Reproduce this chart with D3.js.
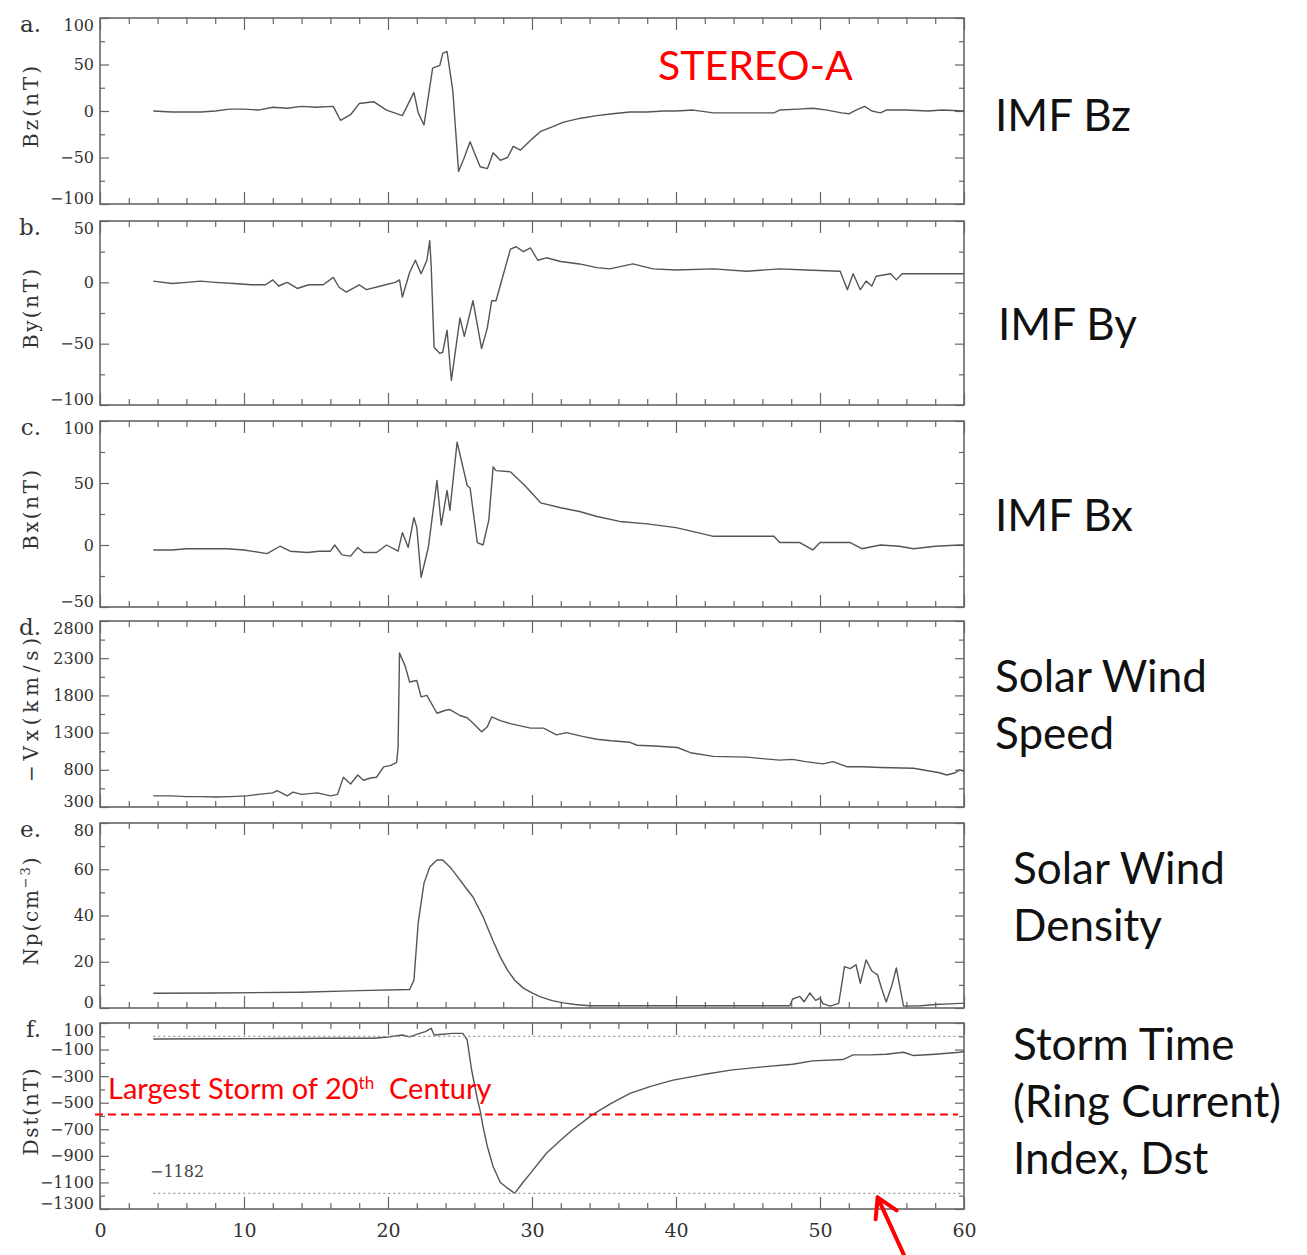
<!DOCTYPE html>
<html>
<head>
<meta charset="utf-8">
<script src="https://cdn.jsdelivr.net/npm/d3@7"></script>
<style>
  body { margin: 0; background: #fff; }
  .tick text { font-family: "DejaVu Serif", serif; font-size: 16px; fill: #333; }
  .tick line { stroke: #666; stroke-width: 1.2; }
  .side { font-family: Lato, "Open Sans", sans-serif; fill: #111; }
</style>
</head>
<body>
<svg id="chart" width="1307" height="1255"></svg>
<script>
// ---- data (time in hours) ----
const bzTime = [3.7,5,6,7,8,9,10,11,12,13,14,15,16.2,16.7,17.4,18,19,19.9,21,21.8,22.1,22.5,23.1,23.6,23.8,24.1,24.5,24.9,25.3,25.7,26,26.4,26.9,27.3,27.8,28.3,28.7,29.2,30,30.6,31.4,32.2,33.3,34.5,35.6,36.8,38,39.1,40,41.2,42.6,44,45.5,46.8,47.2,48.5,49.5,50.5,51.5,52,52.5,53.1,53.6,54.2,54.6,56,57.5,58.5,60];
const bzValues = [0,-1,-1,-1,0,2,2,1,4,3,5,4,5,-10,-4,8,10,1,-5,20,-2,-15,46,49,62,64,22,-65,-50,-33,-45,-60,-62,-45,-53,-50,-38,-42,-30,-22,-17,-12,-8,-5,-3,-1,-1,0,0,1,-2,-2,-2,-2,1,2,3,1,-2,-3,1,5,0,-2,1,1,0,1,0];

const byTime = [3.7,5,6,7,8,9.3,10.5,11.5,12,12.4,13,13.7,14.5,15.5,16.2,16.6,17.1,18,18.5,19.5,20.5,20.8,21,21.5,21.9,22.3,22.7,22.9,23,23.2,23.6,23.8,24.1,24.4,25,25.3,25.9,26.5,26.9,27.2,27.5,28,28.5,28.9,29.4,29.9,30.4,31,32,33.3,34.5,35.4,36.2,37,38.4,40,42.6,44.9,47.2,49,51.4,51.9,52.3,52.8,53.2,53.6,53.9,54.9,55.3,55.7,57,58.5,60];
const byValues = [1,-1,0,1,0,-1,-2,-2,2,-3,0,-5,-2,-2,4,-4,-8,-2,-6,-3,0,2,-12,8,18,7,18,34,13,-53,-58,-57,-39,-80,-29,-44,-15,-54,-37,-15,-15,6,27,29,25,28,18,20,17,15,12,11,13,15,11,10,11,9,11,10,9,-6,7,-6,1,-3,5,7,2,7,7,7,7];

const bxTime = [3.7,5,6,7,8.8,10,11.6,12.5,13.2,14.4,15.2,16,16.3,16.8,17.4,17.9,18.3,19.2,19.9,20.7,21,21.4,21.8,22,22.3,22.8,23.4,23.7,24.1,24.3,24.8,25.5,25.7,26.2,26.6,27,27.3,27.5,28.5,29.5,30.6,32,33.3,34.5,36.1,38,40,41.5,42.6,44,46.8,47.2,48.6,49.5,50,51,52.1,52.9,54.2,55.5,56.5,58,59.7,60];
const bxValues = [-4,-4,-3,-3,-3,-4,-7,-1,-5,-6,-5,-5,0,-8,-9,-2,-6,-6,0,-5,10,-2,22,14,-26,-2,52,16,44,28,83,48,46,2,0,20,63,60,59,48,34,30,27,23,19,17,14,10,7,7,7,2,2,-4,2,2,2,-3,0,-1,-3,-1,0,0];

const vxTime = [3.7,5,6,7,8.1,9,10.2,11,12,12.3,13,13.4,14,15.1,16,16.5,16.9,17.4,17.9,18.3,18.8,19.2,19.7,20.2,20.6,20.7,20.8,21.2,21.5,22,22.3,22.7,23.4,24,24.3,25,25.5,25.9,26.5,26.9,27.2,27.8,28.5,29.9,30.8,31.7,32.4,33.5,34.5,35.5,36.8,37.3,38.5,40.1,41,42.6,44.9,46,47.2,48.1,49,50.2,50.9,51.9,53,54.2,56.5,58.3,58.8,59.4,59.7,60];
const vxValues = [450,450,440,440,434,440,450,470,490,520,450,500,470,490,450,470,700,610,730,660,690,700,840,860,900,1100,2370,2190,1980,2000,1780,1800,1560,1600,1610,1530,1500,1430,1310,1380,1510,1460,1420,1360,1360,1270,1300,1250,1210,1190,1170,1130,1120,1100,1030,980,970,950,930,940,910,880,910,840,840,830,820,760,730,760,800,780];

const npTime = [3.7,8,13.9,18,21.5,21.8,22.1,22.5,22.9,23.4,23.8,24.3,24.8,25.4,25.9,26.6,27.3,27.8,28.3,28.8,29.4,30,30.6,31.4,32.2,33,34,40,47.9,48.1,48.6,48.9,49.3,49.7,50,50.2,50.7,51.3,51.7,52.1,52.5,52.8,53.2,53.6,54,54.3,54.6,55,55.3,55.8,57,58,59,59.7,60];
const npValues = [6.4,6.5,6.8,7.5,8,12,37,54,61,64,64,61,57,52,48,39.5,29,22,16.4,12,8.6,6.5,4.8,3.2,2.2,1.5,1,1,1,3.9,5,2.7,6.5,3.3,4.3,1.9,0.8,2,17.9,17,18.7,10.7,20.8,16,14.3,8,2.6,10,17.3,0.8,1,1.5,1.8,2,2];

const dstTime = [3.7,8,12,16,19,20,21,21.5,22.2,22.6,23,23.2,23.8,24.5,25.2,25.5,25.8,26.2,26.4,26.6,26.9,27.3,27.8,28.2,28.8,29.3,29.9,31,32,32.8,34.2,35.5,36.8,38.3,39.8,41.8,43.8,46,48.1,49.5,51.6,52.3,53.5,54.6,55.8,56.5,58,59.7,60];
const dstValues = [-20,-18,-17,-15,-15,-5,10,-5,22,35,60,10,15,22,22,-28,-250,-470,-560,-680,-830,-980,-1100,-1135,-1182,-1110,-1030,-880,-780,-705,-590,-505,-430,-375,-330,-290,-255,-230,-210,-185,-175,-140,-140,-135,-120,-145,-135,-120,-115];

const dstRefLevels = [0, -1182];
const largestStorm = -589;
const xLabels = [0, 10, 20, 30, 40, 50, 60];

// ---- layout ----
const svg = d3.select("#chart");
const x = d3.scaleLinear().domain([0, 60]).range([100, 964]);

const panels = [
  { letter: "a.", top: 18,   bottom: 204,  domain: [-100, 100],  minor: 25,  labels: [-100, -50, 0, 50, 100], t: bzTime,  v: bzValues,  title: ["Bz(nT)"],    titleLen: 82 },
  { letter: "b.", top: 221,  bottom: 405,  domain: [-100, 50],   minor: 25,  labels: [-100, -50, 0, 50],      t: byTime,  v: byValues,  title: ["By(nT)"],    titleLen: 80 },
  { letter: "c.", top: 421,  bottom: 607,  domain: [-50, 100],   minor: 25,  labels: [-50, 0, 50, 100],       t: bxTime,  v: bxValues,  title: ["Bx(nT)"],    titleLen: 80 },
  { letter: "d.", top: 621,  bottom: 807,  domain: [300, 2800],  minor: 250, labels: d3.range(300, 2801, 500), t: vxTime, v: vxValues, title: ["\u2212Vx(km/s)"], titleLen: 144 },
  { letter: "e.", top: 823,  bottom: 1008, domain: [0, 80],      minor: 10,  labels: d3.range(0, 81, 20),     t: npTime,  v: npValues,  title: ["Np(cm", "\u22123", ")"], titleLen: 108 },
  { letter: "f.", top: 1023, bottom: 1209, domain: [-1300, 100], minor: 100, labels: d3.range(-1300, 101, 200), t: dstTime, v: dstValues, title: ["Dst(nT)"], titleLen: 87 }
];

const fmt = d => (d < 0 ? "\u2212" : "") + Math.abs(d);

panels.forEach((p, i) => {
  const y = d3.scaleLinear().domain(p.domain).range([p.bottom, p.top]);
  p.y = y;
  const g = svg.append("g");
  const minorVals = d3.range(p.domain[0], p.domain[1] + 0.001, p.minor).filter(v => !p.labels.includes(v));

  // left ticks (inside) with labels
  const left = g.append("g").attr("transform", "translate(100,0)")
    .call(d3.axisLeft(y).tickValues(p.labels).tickSize(-9).tickPadding(6).tickFormat(fmt));
  left.selectAll(".tick text")
    .attr("y", d => {
      const yy = y(d);
      return Math.max(p.top + 7, Math.min(p.bottom - 6, yy)) - yy;
    });
  g.append("g").attr("transform", "translate(100,0)")
    .call(d3.axisLeft(y).tickValues(minorVals).tickSize(-5).tickFormat(""));
  // right ticks (inside)
  g.append("g").attr("transform", "translate(964,0)")
    .call(d3.axisRight(y).tickValues(p.labels).tickSize(-9).tickFormat(""));
  g.append("g").attr("transform", "translate(964,0)")
    .call(d3.axisRight(y).tickValues(minorVals).tickSize(-5).tickFormat(""));

  // x ticks on top and bottom, pointing inward
  const xMajor = d3.range(0, 61, 10), xMinor = d3.range(0, 61, 2).filter(v => v % 10 !== 0);
  [[xMajor, 12], [xMinor, 6]].forEach(([vals, len]) => {
    g.append("g").attr("transform", `translate(0,${p.top})`)
      .call(d3.axisBottom(x).tickValues(vals).tickSize(len).tickFormat(""));
    g.append("g").attr("transform", `translate(0,${p.bottom})`)
      .call(d3.axisTop(x).tickValues(vals).tickSize(len).tickFormat(""));
  });
  g.selectAll(".domain").remove();

  g.append("rect")
    .attr("x", 100).attr("y", p.top)
    .attr("width", 864).attr("height", p.bottom - p.top)
    .attr("fill", "none").attr("stroke", "#666").attr("stroke-width", 1.6);

  // panel letter
  g.append("text")
    .attr("x", 41).attr("y", p.top + 14)
    .attr("text-anchor", "end")
    .style("font-family", "'DejaVu Serif', serif").style("font-size", "23px").style("fill", "#333")
    .text(p.letter);

  // axis title (rotated)
  const cy = (p.top + p.bottom) / 2 - 4;
  const title = g.append("text")
    .attr("transform", `translate(38,${cy}) rotate(-90)`)
    .attr("text-anchor", "middle")
    .attr("textLength", p.titleLen).attr("lengthAdjust", "spacing")
    .style("font-family", "'DejaVu Serif', serif").style("font-size", "20px").style("fill", "#333");
  if (p.title.length === 1) {
    title.text(p.title[0]);
  } else {
    title.append("tspan").text(p.title[0]);
    title.append("tspan").attr("dy", -8).style("font-size", "13px").text(p.title[1]);
    title.append("tspan").attr("dy", 8).text(p.title[2]);
  }

  // data line
  const pts = p.t.map((t, k) => [t, p.v[k]]);
  g.append("path")
    .datum(pts)
    .attr("fill", "none").attr("stroke", "#555").attr("stroke-width", 1.4)
    .attr("stroke-linejoin", "round")
    .attr("d", d3.line().x(d => x(d[0])).y(d => y(d[1])));
});

// x labels under the last panel
const lastP = panels[5];
const xAxis = svg.append("g").attr("transform", `translate(0,${lastP.bottom})`)
  .call(d3.axisBottom(x).tickValues(xLabels).tickSize(0).tickPadding(15));
xAxis.select(".domain").remove();
xAxis.selectAll("text").style("font-size", "19px");

// Dst reference lines
const dstY = lastP.y;
svg.append("g").selectAll("line").data(dstRefLevels).join("line")
  .attr("x1", x(3.7)).attr("x2", x(60))
  .attr("y1", d => dstY(d)).attr("y2", d => dstY(d))
  .attr("stroke", "#999").attr("stroke-width", 1.2).attr("stroke-dasharray", "2,3");

svg.append("text")
  .attr("x", 150).attr("y", dstY(-1182) - 16)
  .style("font-family", "'DejaVu Serif', serif").style("font-size", "16px").style("fill", "#444")
  .text("\u22121182");

svg.append("line")
  .attr("x1", 95).attr("x2", 958)
  .attr("y1", dstY(largestStorm)).attr("y2", dstY(largestStorm))
  .attr("stroke", "#f00").attr("stroke-width", 2).attr("stroke-dasharray", "8,5");

const storm = svg.append("text")
  .attr("x", 108).attr("y", dstY(largestStorm) - 16)
  .style("font-family", "Lato, 'Open Sans', sans-serif").style("font-size", "29px").style("fill", "#f00");
storm.append("tspan").text("Largest Storm of 20");
storm.append("tspan").attr("dy", -10).style("font-size", "17px").text("th");
storm.append("tspan").attr("dy", 10).text("\u00a0 Century");

// red arrow pointing at the -1182 level
const tipX = x(54), tipY = dstY(-1182) + 4;
svg.append("path")
  .attr("d", `M${tipX + 32},${tipY + 70} L${tipX},${tipY} M${tipX - 2},${tipY + 22} L${tipX},${tipY} L${tipX + 19},${tipY + 13}`)
  .attr("fill", "none").attr("stroke", "#f00").attr("stroke-width", 4).attr("stroke-linecap", "round").attr("stroke-linejoin", "round");

// title and side labels
svg.append("text").attr("x", 658).attr("y", 80)
  .style("font-family", "Lato, 'Open Sans', sans-serif").style("font-size", "41px").style("fill", "#f00")
  .text("STEREO-A");

const sideLabels = [
  { x: 995,  y: 131,  lines: ["IMF Bz"] },
  { x: 998,  y: 340,  lines: ["IMF By"] },
  { x: 995,  y: 531,  lines: ["IMF Bx"] },
  { x: 995,  y: 692,  lines: ["Solar Wind", "Speed"] },
  { x: 1013, y: 884,  lines: ["Solar Wind", "Density"] },
  { x: 1013, y: 1060, lines: ["Storm Time", "(Ring Current)", "Index, Dst"] }
];
sideLabels.forEach(s => {
  const t = svg.append("text").attr("class", "side").attr("x", s.x).attr("y", s.y).style("font-size", "44px");
  s.lines.forEach((l, k) => t.append("tspan").attr("x", s.x).attr("dy", k === 0 ? 0 : 57).text(l));
});
</script>
</body>
</html>
